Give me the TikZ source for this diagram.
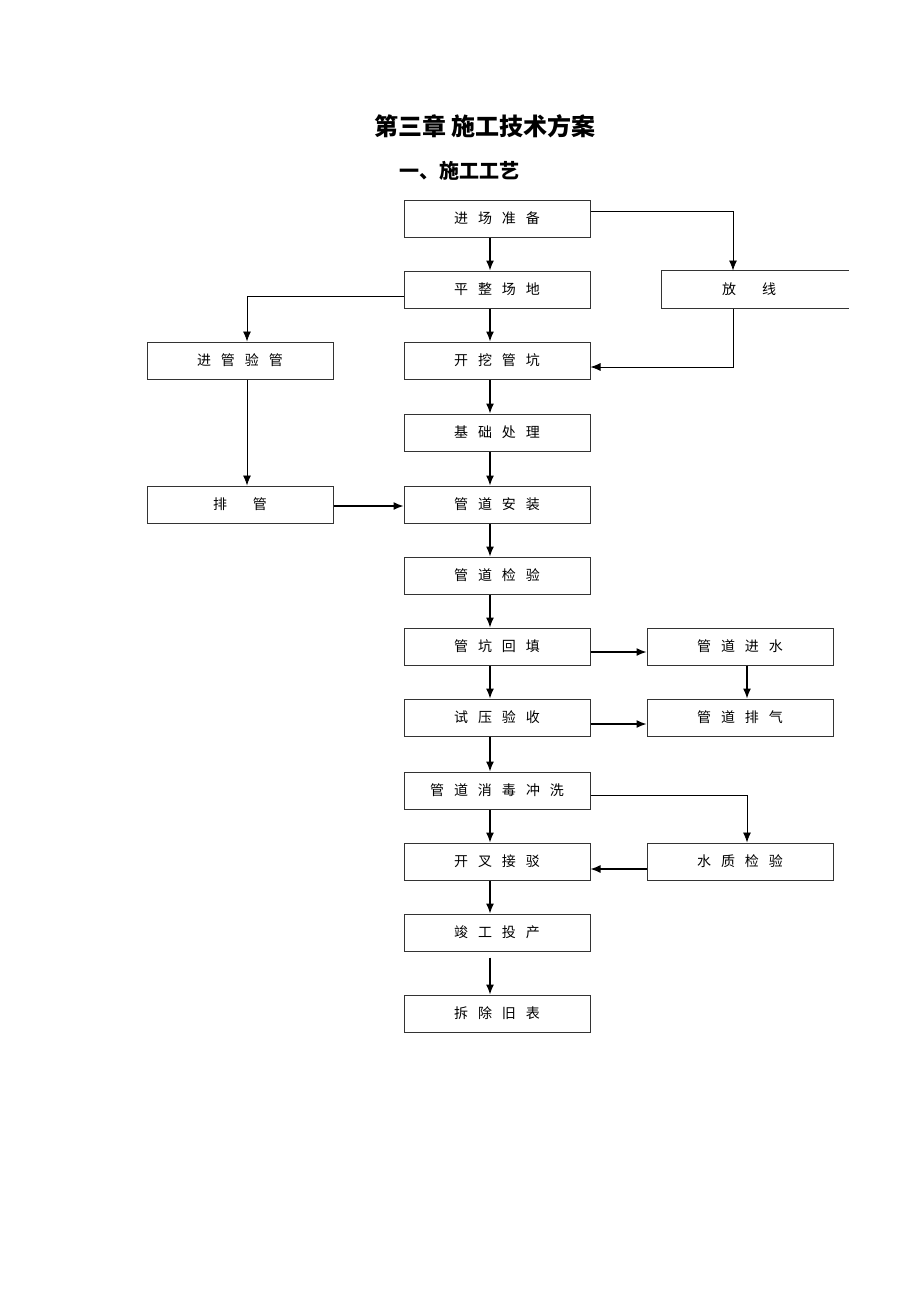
\documentclass[tikz,border=0pt]{standalone}
\usepackage{fontspec}
\newfontfamily\cjk{Noto Sans CJK SC}
\usetikzlibrary{arrows.meta}
\newcommand{\boxfont}{\cjk\fontsize{14}{16}\selectfont\spaceskip=10pt\relax}

\tikzset{
  stepbox/.style={draw=black!80, line width=1pt, minimum width=186pt,
    minimum height=37pt, inner sep=0pt, font=\boxfont},
  flow/.style={->, line width=1.3pt},
  thinflow/.style={->, line width=0.8pt},
  line/.style={line width=1pt},
}

\begin{document}
\begin{tikzpicture}[>={Latex[length=10pt,width=8pt]}, x=1pt, y=-1pt]
      \useasboundingbox (0,0) rectangle (920,1302);

      % TITLE
      \node (title) at (485,126) {\cjk\bfseries\fontsize{24}{28}\selectfont 第三章 施工技术方案};
      \node (subtitle) at (459,171) {\cjk\bfseries\fontsize{20}{24}\selectfont 一、施工工艺};

      % main column
      \node[stepbox] (zhunbei) at (497,218.5) {进 场 准 备};
      \node[stepbox] (pingzheng) at (497,289.5) {平 整 场 地};
      \node[stepbox] (wakeng) at (497,360.5) {开 挖 管 坑};
      \node[stepbox] (jichu) at (497,432.5) {基 础 处 理};
      \node[stepbox] (anzhuang) at (497,504.5) {管 道 安 装};
      \node[stepbox] (jianyan) at (497,575.5) {管 道 检 验};
      \node[stepbox] (huitian) at (497,646.5) {管 坑 回 填};
      \node[stepbox] (shiya) at (497,717.5) {试 压 验 收};
      \node[stepbox] (xiaodu) at (497,790.5) {管 道 消 毒 冲 洗};
      \node[stepbox] (jiebo) at (497,861.5) {开 叉 接 驳};
      \node[stepbox] (jungong) at (497,932.5) {竣 工 投 产};
      \node[stepbox] (chaichu) at (497,1013.5) {拆 除 旧 表};

      % left column
      \node[stepbox] (jinguan) at (240,360.5) {进 管 验 管};
      \node[stepbox] (paiguan) at (240,504.5) {排\hspace{26pt}管};

      % right column
      \node[stepbox, draw=none] (fangxian) at (755,289.5) {\hspace{-12pt}放\hspace{26pt}线};
      \draw[line, black!80] (fangxian.north east) -- (fangxian.north west)
        -- (fangxian.south west) -- (fangxian.south east);
      \node[stepbox] (jinshui) at (740,646.5) {管 道 进 水};
      \node[stepbox] (paiqi) at (740,717.5) {管 道 排 气};
      \node[stepbox] (shuizhi) at (740,861.5) {水 质 检 验};

      % arrows, main column
      \draw[flow] ([xshift=-7pt]zhunbei.south) -- ([xshift=-7pt]pingzheng.north);
      \draw[flow] ([xshift=-7pt]pingzheng.south) -- ([xshift=-7pt]wakeng.north);
      \draw[flow] ([xshift=-7pt]wakeng.south) -- ([xshift=-7pt]jichu.north);
      \draw[flow] ([xshift=-7pt]jichu.south) -- ([xshift=-7pt]anzhuang.north);
      \draw[flow] ([xshift=-7pt]anzhuang.south) -- ([xshift=-7pt]jianyan.north);
      \draw[flow] ([xshift=-7pt]jianyan.south) -- ([xshift=-7pt]huitian.north);
      \draw[flow] ([xshift=-7pt]huitian.south) -- ([xshift=-7pt]shiya.north);
      \draw[flow] ([xshift=-7pt]shiya.south) -- ([xshift=-7pt]xiaodu.north);
      \draw[flow] ([xshift=-7pt]xiaodu.south) -- ([xshift=-7pt]jiebo.north);
      \draw[flow] ([xshift=-7pt]jiebo.south) -- ([xshift=-7pt]jungong.north);
      \draw[flow] ([xshift=-7pt,yshift=-6pt]jungong.south) -- ([xshift=-7pt]chaichu.north);

      % arrows, side branches
      \draw[thinflow] ([yshift=7pt]zhunbei.east) -| ([xshift=-22pt]fangxian.north);
      \draw[thinflow] ([xshift=-22pt]fangxian.south) |- ([yshift=-6.5pt]wakeng.east);
      \draw[thinflow] ([yshift=-6.5pt]pingzheng.west) -| ([xshift=7pt]jinguan.north);
      \draw[thinflow] ([xshift=7pt]jinguan.south) -- ([xshift=7pt]paiguan.north);
      \draw[flow] ([yshift=-1.5pt]paiguan.east) -- ([yshift=-1.5pt]anzhuang.west);
      \draw[flow] ([yshift=-5.5pt]huitian.east) -- ([yshift=-5.5pt]jinshui.west);
      \draw[flow] ([xshift=7pt]jinshui.south) -- ([xshift=7pt]paiqi.north);
      \draw[flow] ([yshift=-6.5pt]shiya.east) -- ([yshift=-6.5pt]paiqi.west);
      \draw[thinflow] ([yshift=-4.5pt]xiaodu.east) -| ([xshift=7pt]shuizhi.north);
      \draw[flow] ([yshift=-7.5pt]shuizhi.west) -- ([yshift=-7.5pt]jiebo.east);

\end{tikzpicture}
\end{document}
